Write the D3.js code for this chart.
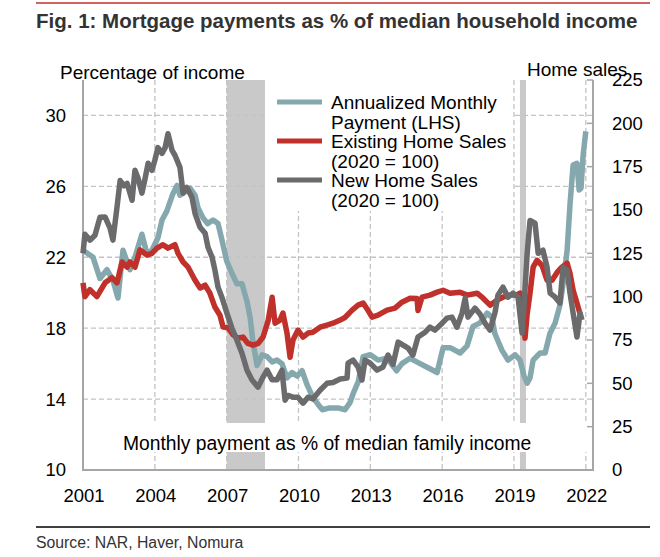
<!DOCTYPE html>
<html>
<head>
<meta charset="utf-8">
<script src="https://cdn.jsdelivr.net/npm/d3@7"></script>
<style>
	body { margin: 0; background: #fff; }
	svg { font-family: 'Liberation Sans', Arial, sans-serif; }
</style>
</head>
<body>
<svg id="chartSvg" width="660" height="557"></svg>
<script>
//x axis years
var yearTicks = [2001, 2004, 2007, 2010, 2013, 2016, 2019, 2022];
var leftTicks = [10, 14, 18, 22, 26, 30];
var rightTicks = [0, 25, 50, 75, 100, 125, 150, 175, 200, 225];

//recession bands [start, end]
var recessions = [[2007.0, 2008.6], [2019.25, 2019.5]];

//annualized monthly payment, % of income (LHS)
var paymentData = [
	[2001.0, 22.4], [2001.42, 22.0], [2001.71, 20.8], [2002.0, 21.3], [2002.25, 20.7], [2002.46, 19.7],
	[2002.67, 22.4], [2002.96, 21.3], [2003.17, 22.0], [2003.46, 23.3], [2003.67, 22.2], [2003.88, 22.4],
	[2004.13, 23.1], [2004.3, 24.1], [2004.5, 24.6], [2004.76, 25.6], [2004.93, 26.05], [2005.05, 25.5],
	[2005.26, 25.7], [2005.47, 25.9], [2005.68, 25.5], [2005.8, 24.8], [2006.0, 24.25], [2006.2, 23.9],
	[2006.43, 24.1], [2006.64, 23.9], [2006.8, 23.0], [2007.0, 21.8], [2007.22, 21.1], [2007.43, 20.5],
	[2007.64, 20.5], [2007.85, 19.5], [2007.98, 18.6], [2008.1, 17.2], [2008.27, 15.9], [2008.48, 16.5],
	[2008.69, 16.4], [2008.9, 16.1], [2009.1, 16.2], [2009.31, 16.0], [2009.52, 15.2], [2009.73, 15.5],
	[2009.94, 15.3], [2010.15, 15.6], [2010.36, 14.8], [2010.6, 14.1], [2010.82, 13.7], [2011.0, 13.4],
	[2011.3, 13.5], [2011.65, 13.5], [2011.94, 13.4], [2012.15, 13.8], [2012.28, 14.3], [2012.5, 15.0],
	[2012.7, 16.4], [2013.0, 16.5], [2013.32, 16.2], [2013.7, 16.3], [2014.1, 15.6], [2014.32, 16.0],
	[2014.66, 16.3], [2015.08, 16.0], [2015.37, 15.8], [2015.79, 15.5], [2016.04, 16.9], [2016.33, 16.9],
	[2016.75, 16.6], [2017.04, 17.0], [2017.29, 18.1], [2017.58, 18.3], [2017.88, 18.85], [2018.08, 18.6],
	[2018.2, 17.7], [2018.5, 16.75], [2018.75, 16.2], [2019.05, 16.5], [2019.25, 16.2], [2019.42, 15.3],
	[2019.55, 14.9], [2019.67, 15.2], [2019.8, 16.2], [2020.09, 16.6], [2020.3, 16.6], [2020.5, 17.7],
	[2020.72, 18.3], [2020.92, 19.3], [2021.05, 20.5], [2021.22, 22.4], [2021.34, 25.0], [2021.47, 27.2],
	[2021.63, 27.3], [2021.72, 25.8], [2021.8, 25.9], [2021.89, 27.8], [2022.0, 29.1]
];

//existing home sales, 2020 = 100 (RHS)
var existingData = [
	[2001.0, 108], [2001.08, 100], [2001.29, 104], [2001.58, 100], [2001.92, 108], [2002.21, 111],
	[2002.42, 108], [2002.63, 120], [2002.84, 117], [2002.96, 120], [2003.17, 117], [2003.38, 127],
	[2003.67, 124], [2003.88, 125], [2004.09, 128], [2004.34, 130], [2004.55, 128], [2004.84, 130],
	[2004.97, 125], [2005.18, 120], [2005.39, 117], [2005.68, 109.5], [2005.89, 105], [2006.1, 106.6],
	[2006.3, 102], [2006.51, 94], [2006.72, 89.3], [2006.85, 82.5], [2007.06, 82], [2007.27, 78],
	[2007.47, 76], [2007.68, 76.7], [2007.89, 73], [2008.1, 72], [2008.31, 73], [2008.52, 76.7],
	[2008.73, 86], [2008.9, 99.7], [2009.02, 84.7], [2009.23, 86.5], [2009.35, 90.5], [2009.52, 79],
	[2009.65, 65], [2009.77, 75], [2009.98, 80.7], [2010.19, 76.7], [2010.4, 79], [2010.6, 79.5],
	[2010.9, 82.4], [2011.19, 83.6], [2011.44, 84.7], [2011.74, 86.5], [2011.94, 88], [2012.24, 92.2],
	[2012.49, 95.1], [2012.7, 96.3], [2012.9, 92.2], [2013.07, 88.2], [2013.32, 89.3], [2013.7, 92.2],
	[2014.03, 93.4], [2014.32, 96.8], [2014.66, 99.1], [2014.95, 99], [2014.99, 92], [2015.16, 99.7],
	[2015.49, 100.9], [2015.79, 102.6], [2016.04, 103.7], [2016.33, 102], [2016.75, 102.6], [2017.04, 100.9],
	[2017.46, 102], [2017.71, 99.1], [2018.0, 95.1], [2018.29, 98], [2018.54, 99.7], [2018.84, 100.9],
	[2019.13, 101], [2019.25, 102], [2019.38, 90], [2019.46, 76], [2019.55, 90], [2019.67, 102],
	[2019.8, 117], [2019.96, 121], [2020.17, 118], [2020.38, 109.5], [2020.59, 109.5], [2020.8, 114],
	[2021.0, 117], [2021.22, 119.3], [2021.34, 113.5], [2021.47, 103.7], [2021.63, 96.3], [2021.76, 90]
];

//new home sales, 2020 = 100 (RHS)
var newData = [
	[2001.0, 125], [2001.08, 136], [2001.29, 132.6], [2001.5, 135.4], [2001.71, 145.8], [2001.92, 146],
	[2002.13, 139.5], [2002.25, 132.6], [2002.42, 151.6], [2002.55, 167], [2002.71, 164], [2002.84, 165.4],
	[2003.05, 155.6], [2003.17, 172.9], [2003.3, 168.3], [2003.46, 159.7], [2003.59, 168], [2003.72, 177],
	[2003.88, 172.9], [2004.0, 178.7], [2004.13, 186], [2004.3, 182.7], [2004.43, 186], [2004.55, 194],
	[2004.72, 184.4], [2004.84, 181.6], [2005.05, 174.6], [2005.18, 159.7], [2005.34, 163], [2005.55, 157.3],
	[2005.68, 148], [2005.89, 140], [2006.1, 136.6], [2006.22, 128.5], [2006.39, 122.8], [2006.51, 115.3],
	[2006.64, 105.5], [2006.8, 99.7], [2007.01, 90.5], [2007.22, 81.8], [2007.43, 74.9], [2007.64, 67.4],
	[2007.85, 57.6], [2008.06, 51.9], [2008.31, 47.8], [2008.52, 53.6], [2008.69, 57.6], [2008.9, 52],
	[2009.1, 52], [2009.31, 57.6], [2009.44, 40.3], [2009.56, 43], [2009.77, 42], [2009.98, 42],
	[2010.19, 38.6], [2010.4, 42], [2010.6, 41], [2010.9, 46], [2011.19, 50], [2011.44, 50.5],
	[2011.74, 52.5], [2012.03, 53], [2012.07, 61.7], [2012.28, 63.4], [2012.49, 59.4], [2012.65, 51.9],
	[2012.78, 63.4], [2012.99, 61.7], [2013.28, 57.6], [2013.53, 59.4], [2013.74, 66.3], [2013.95, 61],
	[2014.16, 73.8], [2014.37, 72], [2014.58, 70.3], [2014.78, 66.3], [2014.99, 76.7], [2015.29, 79.5],
	[2015.49, 82.4], [2015.7, 80.7], [2016.0, 84.7], [2016.2, 87.6], [2016.41, 88.2], [2016.62, 82.4],
	[2016.83, 90.5], [2016.96, 99.1], [2017.08, 88.2], [2017.37, 93.4], [2017.58, 90], [2017.79, 84.7],
	[2018.0, 80.7], [2018.21, 91], [2018.33, 100.9], [2018.54, 105.5], [2018.75, 99.7], [2018.96, 102],
	[2019.17, 99.7], [2019.34, 79], [2019.42, 95], [2019.55, 125], [2019.67, 144], [2019.88, 142.4],
	[2020.01, 125], [2020.21, 126.8], [2020.38, 117], [2020.51, 102], [2020.72, 99.7], [2020.92, 96.3],
	[2021.05, 117], [2021.22, 115.3], [2021.34, 102], [2021.47, 90.5], [2021.63, 76.7], [2021.76, 90.5],
	[2021.84, 86.5]
];

var legendLabels = [
	['Annualized Monthly', 'Payment (LHS)'],
	['Existing Home Sales', '(2020 = 100)'],
	['New Home Sales', '(2020 = 100)']
];
var legendColors = ['#84a8ad', '#c0312b', '#6b6b6d'];

//svg vars
var svg;
var xScale, yLeft, yRight;

document.addEventListener('DOMContentLoaded', function() {
	svg = d3.select('#chartSvg');

	//scales
	xScale = d3.scaleLinear().domain([2001, 2022.3]).range([83, 593]);
	yLeft = d3.scaleLinear().domain([10, 32]).range([470, 80]);
	yRight = d3.scaleLinear().domain([0, 225]).range([470, 80]);

	//top red rule and title
	svg.append('line')
		.attr('x1', 36).attr('x2', 650).attr('y1', 3).attr('y2', 3)
		.style('stroke', '#c0312b').style('stroke-width', 1.5);
	svg.append('text')
		.attr('x', 36).attr('y', 28)
		.style('font-size', '20.5px').style('font-weight', 'bold').style('fill', '#333')
		.text('Fig. 1: Mortgage payments as % of median household income');

	//axis titles
	svg.append('text')
		.attr('x', 60).attr('y', 79)
		.style('font-size', '19px')
		.text('Percentage of income');
	svg.append('text')
		.attr('x', 527).attr('y', 76)
		.style('font-size', '19px')
		.text('Home sales');

	//recession shading
	svg.selectAll('.shade')
		.data(recessions)
		.join('rect')
		.classed('shade', true)
		.attr('x', d => xScale(d[0]))
		.attr('width', d => xScale(d[1]) - xScale(d[0]))
		.attr('y', yLeft(32))
		.attr('height', yLeft(10) - yLeft(32))
		.style('fill', '#c9c9c9');

	//grid
	svg.selectAll('.hgrid')
		.data(leftTicks.filter(d => d > 10))
		.join('line')
		.classed('hgrid', true)
		.attr('x1', xScale(2001)).attr('x2', xScale(2022.3))
		.attr('y1', d => yLeft(d)).attr('y2', d => yLeft(d))
		.style('stroke', '#c4c4c4').style('stroke-width', 1.3).style('stroke-dasharray', '5,3');
	svg.selectAll('.vgrid')
		.data(yearTicks.filter(d => d > 2001))
		.join('line')
		.classed('vgrid', true)
		.attr('x1', d => xScale(d)).attr('x2', d => xScale(d))
		.attr('y1', yLeft(32)).attr('y2', yLeft(10))
		.style('stroke', '#c4c4c4').style('stroke-width', 1.3).style('stroke-dasharray', '5,3');

	//white boxes behind legend and bottom note
	svg.append('rect')
		.attr('x', 266).attr('y', 80).attr('width', 246).attr('height', 131)
		.style('fill', '#fff');
	svg.append('rect')
		.attr('x', 85).attr('y', 423).attr('width', 506).attr('height', 29)
		.style('fill', '#fff');

	//right axis inner ticks
	svg.selectAll('.rtick')
		.data(rightTicks)
		.join('line')
		.classed('rtick', true)
		.attr('x1', xScale(2022.3) - 6).attr('x2', xScale(2022.3))
		.attr('y1', d => yRight(d)).attr('y2', d => yRight(d))
		.style('stroke', '#a6a6a6').style('stroke-width', 1.5);

	//axis lines
	svg.append('path')
		.attr('d', `M${xScale(2001)},${yLeft(32)}V${yLeft(10)}H${xScale(2022.3)}V${yLeft(32)}`)
		.style('fill', 'none').style('stroke', '#a6a6a6').style('stroke-width', 2);

	//tick labels
	svg.selectAll('.ltick')
		.data(leftTicks)
		.join('text')
		.classed('ltick', true)
		.attr('x', 66).attr('y', d => yLeft(d)).attr('dy', '0.35em')
		.style('text-anchor', 'end').style('font-size', '18.5px')
		.text(d => d);
	svg.selectAll('.rlabel')
		.data(rightTicks)
		.join('text')
		.classed('rlabel', true)
		.attr('x', 612).attr('y', d => yRight(d)).attr('dy', '0.35em')
		.style('font-size', '18.5px')
		.text(d => d);
	svg.selectAll('.xlabel')
		.data(yearTicks)
		.join('text')
		.classed('xlabel', true)
		.attr('x', d => xScale(d) + 1).attr('y', 502)
		.style('text-anchor', 'middle').style('font-size', '18.5px')
		.text(d => d);

	//series lines
	var payLine = d3.line().x(d => xScale(d[0])).y(d => yLeft(d[1]));
	var salesLine = d3.line().x(d => xScale(d[0])).y(d => yRight(d[1]));
	var series = [
		{ data: paymentData, gen: payLine, color: legendColors[0] },
		{ data: existingData, gen: salesLine, color: legendColors[1] },
		{ data: newData, gen: salesLine, color: legendColors[2] }
	];
	svg.selectAll('.series')
		.data(series)
		.join('path')
		.classed('series', true)
		.attr('d', d => d.gen(d.data))
		.style('fill', 'none')
		.style('stroke', d => d.color)
		.style('stroke-width', 5.5)
		.style('stroke-linejoin', 'round');

	//legend
	var legend = svg.selectAll('.legend')
		.data(legendLabels)
		.join('g')
		.classed('legend', true)
		.attr('transform', (d, i) => `translate(277,${102 + i * 39})`);
	legend.append('line')
		.attr('x1', 0).attr('x2', 45)
		.style('stroke', (d, i) => legendColors[i]).style('stroke-width', 5);
	legend.append('text')
		.attr('x', 54).attr('dy', '0.35em')
		.style('font-size', '19px')
		.text(d => d[0]);
	legend.append('text')
		.attr('x', 54).attr('y', 20).attr('dy', '0.35em')
		.style('font-size', '19px')
		.text(d => d[1]);

	//note inside plot
	svg.append('text')
		.attr('x', 123).attr('y', 443).attr('dy', '0.35em')
		.style('font-size', '19.3px')
		.text('Monthly payment as % of median family income');

	//bottom rule and source
	svg.append('line')
		.attr('x1', 36).attr('x2', 650).attr('y1', 527).attr('y2', 527)
		.style('stroke', '#000').style('stroke-width', 1.5);
	svg.append('text')
		.attr('x', 36).attr('y', 548)
		.style('font-size', '15.8px').style('fill', '#333')
		.text('Source: NAR, Haver, Nomura');
});
</script>
</body>
</html>
